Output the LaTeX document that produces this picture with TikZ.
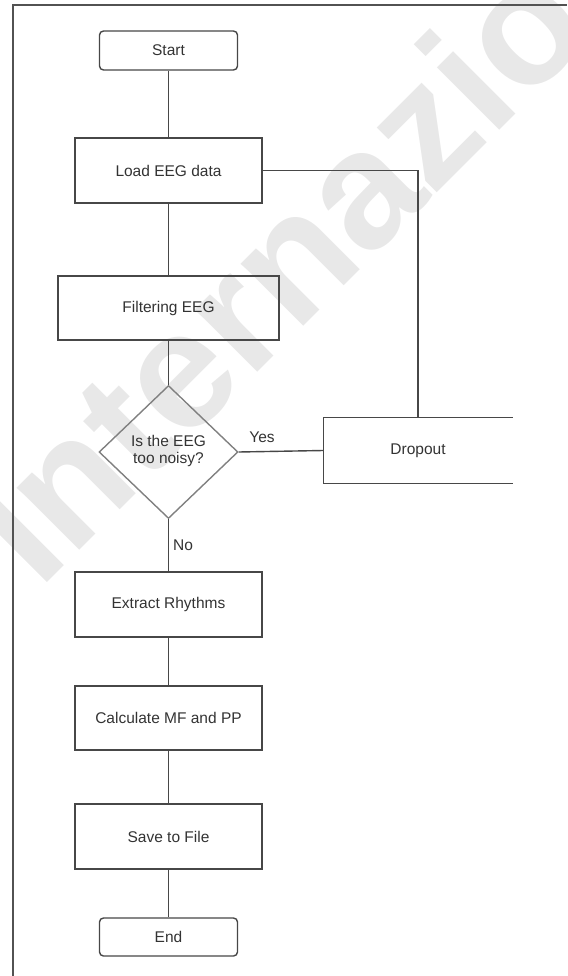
\documentclass[tikz,border=0pt]{standalone}
\usepackage{fontspec}
\setmainfont{Liberation Sans}
\usetikzlibrary{shapes.geometric}
\begin{document}
\begin{tikzpicture}[x=1pt,y=1pt,
  txt/.style={text=black!80, font=\fontsize{15.5}{17}\selectfont},
  box/.style={txt, draw=black!72, line width=1.4pt, minimum width=187pt, minimum height=65pt, inner sep=0pt},
  term/.style={box, rounded corners=4pt, minimum width=138pt, minimum height=39pt},
  conn/.style={draw=black!72, line width=1.4pt},
  lbl/.style={txt, inner sep=0pt},
  frame/.style={draw=black!68, line width=1.5pt},
]
\useasboundingbox (0,0) rectangle (567,-976);
% watermark
\node[text=black!9, font=\bfseries\fontsize{167}{167}\selectfont, rotate=45, anchor=base west, inner sep=0pt] (wm) at (39,-591) {Internazionale};
\fill[white] (512,-420) rectangle (567,-976);
% frame
\coordinate (f1) at (13,-976);
\coordinate (f2) at (13,-5);
\coordinate (f3) at (567,-5);
\draw[frame] (f1) -- (f2) -- (f3);
% nodes
\node[term] (start) at (168.5,-50.5) {Start};
\node[box] (load) at (168.5,-170.5) {Load EEG data};
\node[box, minimum width=221pt, minimum height=64pt] (filt) at (168.5,-308) {Filtering EEG};
\node[diamond, draw=black!50, line width=1.4pt, minimum width=139pt, minimum height=133pt, inner sep=0pt] (q) at (168.5,-452) {};
\node[lbl, align=center] (qt) at (168.5,-451) {Is the EEG\\too noisy?};
\node[box, draw=none, minimum width=188pt, minimum height=65pt] (drop) at (418,-450.5) {Dropout};
\draw[conn] (drop.north east) -- (drop.north west) -- (drop.south west) -- (drop.south east);
\node[box] (ext) at (168.5,-604.5) {Extract Rhythms};
\node[box, minimum height=64pt] (calc) at (168.5,-718) {Calculate MF and PP};
\node[box] (save) at (168.5,-836.5) {Save to File};
\node[term, minimum height=38pt] (end) at (168.5,-937) {End};
% connectors
\draw[conn] (start) -- (load);
\draw[conn] (load) -- (filt);
\draw[conn] (filt) -- (q);
\draw[conn] (q) -- (ext);
\draw[conn] (ext) -- (calc);
\draw[conn] (calc) -- (save);
\draw[conn] (save) -- (end);
\draw[conn] (q.east) -- (drop.west);
\draw[conn] (load.east) -| (drop.north);
% labels
\node[lbl] (yes) at (262,-437) {Yes};
\node[lbl] (no) at (183,-545) {No};
\end{tikzpicture}
\end{document}
